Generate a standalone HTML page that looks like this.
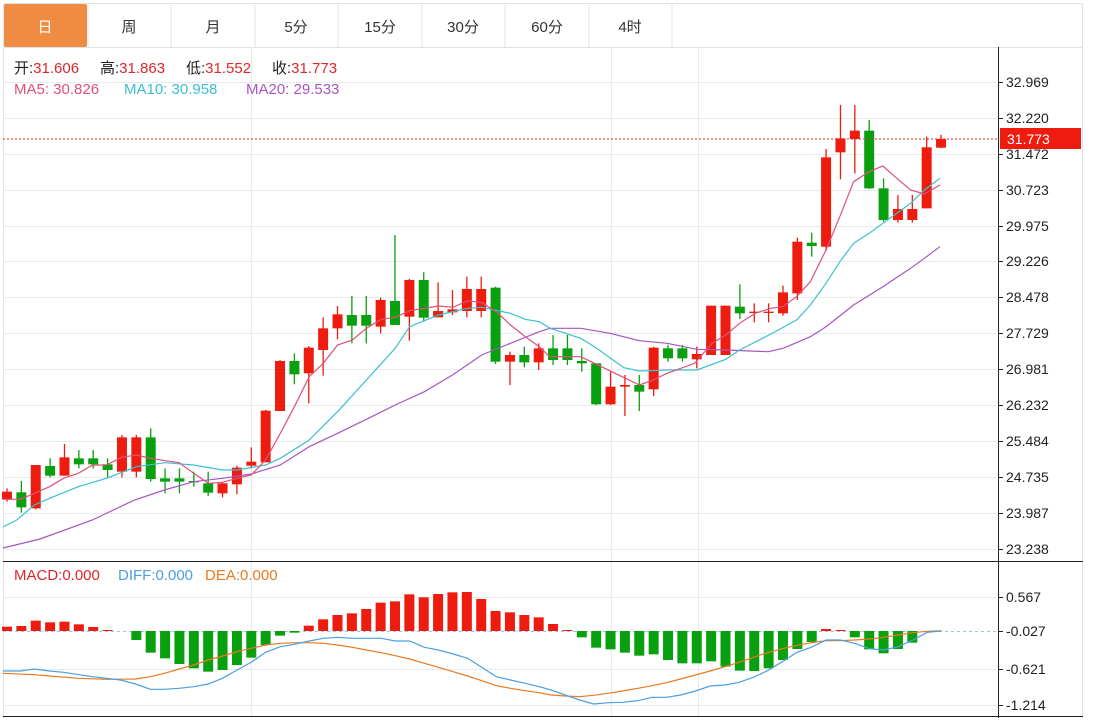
<!DOCTYPE html>
<html><head><meta charset="utf-8"><style>
html,body{margin:0;padding:0;background:#fff;width:1093px;height:723px;overflow:hidden;font-family:"Liberation Sans","Noto Sans CJK SC",sans-serif}
</style></head><body>
<svg id="s" width="1093" height="723" xmlns="http://www.w3.org/2000/svg" style="position:absolute;left:0;top:0">
<rect x="0" y="0" width="1093" height="723" fill="#fff"/>
<rect x="3.5" y="3.5" width="1079" height="44" fill="#fff" stroke="#dfe3e8"/>
<rect x="4" y="4" width="83" height="43" fill="#f08c42" rx="2"/>
<g stroke="#dfe3e8"><line x1="88" y1="4" x2="88" y2="47"/><line x1="171" y1="4" x2="171" y2="47"/><line x1="255" y1="4" x2="255" y2="47"/><line x1="338" y1="4" x2="338" y2="47"/><line x1="422" y1="4" x2="422" y2="47"/><line x1="505" y1="4" x2="505" y2="47"/><line x1="589" y1="4" x2="589" y2="47"/><line x1="672" y1="4" x2="672" y2="47"/></g>
<g font-size="15" text-anchor="middle" fill="#333"><text x="45" y="32" fill="#fff">日</text><text x="129" y="32">周</text><text x="213" y="32">月</text><text x="296" y="32">5分</text><text x="380" y="32">15分</text><text x="463" y="32">30分</text><text x="547" y="32">60分</text><text x="630" y="32">4时</text></g>
<line x1="1082.5" y1="47" x2="1082.5" y2="718" stroke="#dfe3e8"/>
<line x1="3.5" y1="47" x2="3.5" y2="718" stroke="#dfe3e8"/>
<g id="grid" stroke="#e6ebf0" stroke-width="1"></g>
<g id="plot"></g>
<line x1="998.5" y1="47" x2="998.5" y2="718" stroke="#222"/>
<line x1="3" y1="561.5" x2="1083" y2="561.5" stroke="#222"/>
<line x1="3" y1="716.5" x2="1083" y2="716.5" stroke="#222"/>
<g id="axis" font-size="14" fill="#222"></g>
<line x1="3" y1="139" x2="998" y2="139" stroke="#ee2a1a" stroke-dasharray="2,2"/>
<rect x="1000" y="128" width="81" height="21" fill="#ee1c0e"/>
<text x="1007" y="144" font-size="14" fill="#fff">31.773</text>
<g font-size="15">
<text x="14" y="73" fill="#222">开:<tspan fill="#e0262a">31.606</tspan></text>
<text x="100" y="73" fill="#222">高:<tspan fill="#e0262a">31.863</tspan></text>
<text x="186" y="73" fill="#222">低:<tspan fill="#e0262a">31.552</tspan></text>
<text x="272" y="73" fill="#222">收:<tspan fill="#e0262a">31.773</tspan></text>
<text x="14" y="94" fill="#e0507a">MA5: 30.826</text>
<text x="124" y="94" fill="#3cbfd0">MA10: 30.958</text>
<text x="246" y="94" fill="#a855c0">MA20: 29.533</text>
<text x="14" y="580" fill="#e0262a">MACD:0.000</text>
<text x="118" y="580" fill="#4aa0e0">DIFF:0.000</text>
<text x="205" y="580" fill="#e87a20">DEA:0.000</text>
</g>
</svg>
<script>
var NS="http://www.w3.org/2000/svg";
function el(p,t,a){var e=document.createElementNS(NS,t);for(var k in a)e.setAttribute(k,a[k]);p.appendChild(e);return e;}
var plot=document.getElementById('plot'),grid=document.getElementById('grid'),axis=document.getElementById('axis');
function X(i){return 7+14.37*i;}
var labs=[["32.969",82],["32.220",118],["31.472",154],["30.723",190],["29.975",226],["29.226",261],["28.478",297],["27.729",333],["26.981",369],["26.232",405],["25.484",441],["24.735",477],["23.987",513],["23.238",549],["0.567",597],["-0.027",631],["-0.621",669],["-1.214",705]];
labs.forEach(function(l){ if(l[0]!="-0.027") el(grid,'line',{x1:3,y1:l[1]+.5,x2:998,y2:l[1]+.5});
 el(axis,'line',{x1:998,y1:l[1]+.5,x2:1003,y2:l[1]+.5,stroke:'#222'});
 var t=el(axis,'text',{x:1006,y:l[1]+5});t.textContent=l[0];});
[251,611,698].forEach(function(x){el(grid,'line',{x1:x+.5,y1:47,x2:x+.5,y2:716});});
el(grid,'line',{x1:3,y1:631.5,x2:998,y2:631.5,stroke:'#9cc8e8','stroke-dasharray':'3,3'});
var R='#ee1c0e',G='#08a00f';
var c2=[["r",815,838,805,845],["g",817,862,783,878],["r",735,865,735,868],["g",738,767,715,772],["r",712,767,672,767],["g",715,733,690,745],["g",715,733,690,745],["g",733,750,715,772],["r",652,755,645,772],["r",652,755,645,772],["g",652,777,625,785],["g",775,785,745,820],["g",775,785,745,820],["g",783,787,755,800],["g",790,818,755,828],["r",790,820,785,832],["r",743,793,737,823],["r",725,737,682,745],["r",572,727,570,727],["r",423,573,420,573],["g",423,463,400,493],["r",383,460,378,550],["r",325,390,292,467],["r",283,325,258,358],["g",285,317,228,370],["g",285,317,228,370],["r",240,320,233,340],["g",243,315,45,315],["r",180,290,177,362],["g",180,293,157,305],["r",273,292,187,292],["r",268,277,210,285],["r",207,273,170,292],["r",207,273,170,292],["g",203,425,200,432],["r",405,425,395,495],["g",405,427,380,442],["r",385,427,370,450]];
var c3=[["g",775,810,735,825],["g",775,810,735,825],["g",813,820,775,845],["g",820,943,820,945],["r",890,943,845,945],["r",885,890,855,978],["g",885,905,855,963],["r",773,898,770,918],["g",775,805,765,815],["g",775,805,765,815],["r",792,808,770,835],["r",647,795,647,795],["r",647,795,647,795],["g",650,670,583,687],["r",665,669,640,697],["r",665,669,640,697],["r",607,670,587,677],["r",455,610,443,630],["g",458,468,428,500],["r",202,470,177,482],["r",145,187,45,268],["r",122,147,45,250],["g",122,295,90,297],["g",295,390,265,395],["r",357,390,315,398],["r",357,390,315,398],["r",172,355,140,355],["r",147,173,135,175]];
var cs=c2.map(function(c){return [c[0],220+c[1]/3,220+c[2]/3,220+c[3]/3,220+c[4]/3];}).concat(c3.map(function(c){return [c[0],90+c[1]/3,90+c[2]/3,90+c[3]/3,90+c[4]/3];}));
var h=[200,198,182,187,185,193,201,210,213,240,278,295,312,325,335,330,315,293,255,227,218,197,178,165,160,147,128,124,103,112,102,97,96,117,153,157,165,172,192,210,232,263,268,278,287,283,300,310,310,304,320,332,333,325,300,267,246,207,210,232,268,280,267,248,215,213];
h.forEach(function(v,i){var y=560+v/3,z=631;if(Math.abs(y-z)<0.8)return;var col=y<z?R:G;el(plot,'rect',{x:X(i)-5,y:Math.min(y,z),width:10,height:Math.abs(y-z),fill:col});});
cs.forEach(function(c,i){var x=X(i),col=c[0]=="r"?R:G;el(plot,'line',{x1:x,y1:c[3],x2:x,y2:c[4],stroke:col,'stroke-width':1.3});el(plot,'rect',{x:x-5,y:c[1],width:10,height:Math.max(1.2,c[2]-c[1]),fill:col});});
function z2(p){return [X((p[0]-22)/40.9),220+p[1]/3];}
function z3(p){return [X(38+(p[0]-10)/41.6),90+p[1]/3];}
function z4(p){return [X((p[0]-22)/40.9),560+p[1]/3];}
function z5(p){return [X(37+(p[0]-5)/40.5),560+p[1]/3];}
function line(pts,col){el(plot,'polyline',{points:pts.map(function(p){return p[0].toFixed(1)+','+p[1].toFixed(1);}).join(' '),fill:'none',stroke:col,'stroke-width':1.2});}
var ma5=[[10,838],[60,838],[100,820],[143,800],[183,775],[225,760],[265,735],[305,735],[348,712],[390,705],[430,715],[472,722],[512,728],[553,760],[595,790],[635,787],[677,775],[717,765],[758,720],[800,640],[840,560],[882,470],[922,430],[963,375],[1005,360],[1045,325],[1087,298],[1127,292],[1168,272],[1210,265],[1250,258],[1292,262],[1333,242],[1373,248],[1415,275],[1455,315],[1497,350],[1537,380]].map(z2).concat([[0,800],[90,800],[130,820],[210,860],[260,885],[300,870],[340,850],[420,820],[470,760],[510,735],[550,700],[595,670],[640,655],[675,650],[715,620],[755,575],[800,480],[840,380],[880,275],[925,245],[965,228],[1005,265],[1045,300],[1085,312],[1130,285]].map(z3));
var ma10=[[3,527]].concat([[50,900],[100,855],[143,835],[225,800],[305,775],[390,740],[472,728],[553,735],[635,750],[677,750],[758,735],[800,715],[882,660],[963,575],[1045,480],[1127,385],[1168,320],[1250,285],[1333,265],[1373,262],[1455,280],[1497,298],[1537,305],[1568,325]].map(z2)).concat([[90,745],[130,770],[215,833],[260,843],[340,840],[426,840],[510,808],[550,780],[635,735],[715,690],[755,645],[800,580],[840,515],[880,460],[925,430],[965,400],[1045,340],[1085,300],[1130,265]].map(z3));
var ma20=[[3,548],[40,539]].concat([[265,900],[385,840],[470,810],[553,785],[635,775],[717,762],[800,735],[882,680],[963,640],[1045,598],[1127,555],[1210,515],[1290,465],[1373,405],[1455,370],[1537,335],[1568,325]].map(z2)).concat([[90,715],[175,730],[260,752],[340,760],[426,778],[510,780],[633,785],[676,775],[755,740],[800,710],[880,645],[965,590],[1045,535],[1085,505],[1130,470]].map(z3));
line(ma20,'#a855c0');line(ma10,'#3cbfd0');line(ma5,'#e0507a');
var dea=[[10,340],[100,344],[143,348],[225,355],[305,358],[388,357],[430,350],[470,340],[512,327],[553,315],[595,300],[635,288],[677,275],[717,265],[758,255],[800,250],[840,248],[882,248],[922,250],[963,255],[1005,262],[1045,270],[1087,278],[1127,287],[1168,297],[1210,310],[1250,322],[1292,335],[1333,348],[1373,362],[1415,377],[1455,385],[1497,392],[1537,398]].map(z4).concat([[40,405],[80,408],[120,410],[160,406],[200,400],[242,393],[285,385],[325,377],[365,368],[405,357],[447,345],[488,333],[530,320],[570,307],[610,292],[650,278],[692,266],[733,256],[773,248],[815,242],[855,242],[895,240],[937,237],[977,232],[1018,225],[1060,218],[1100,214],[1140,212]].map(z5));
var dif=[[10,333],[60,333],[100,327],[143,333],[183,337],[265,350],[345,360],[388,372],[430,388],[470,388],[512,385],[553,380],[595,372],[635,355],[677,330],[717,307],[758,277],[800,260],[840,253],[882,243],[922,235],[963,232],[1005,235],[1045,235],[1087,235],[1127,243],[1168,243],[1210,262],[1250,270],[1292,282],[1333,295],[1373,322],[1415,350],[1455,360],[1497,370],[1537,380]].map(z4).concat([[40,390],[80,405],[120,420],[160,432],[200,428],[242,427],[285,422],[325,412],[365,412],[405,405],[447,393],[488,378],[530,375],[570,367],[610,352],[650,332],[692,305],[733,277],[773,262],[815,240],[855,240],[895,250],[937,266],[977,270],[1018,260],[1060,240],[1100,217],[1140,213]].map(z5));
line(dea,'#e87a20');line(dif,'#4aa0e0');
</script>
</body></html>
